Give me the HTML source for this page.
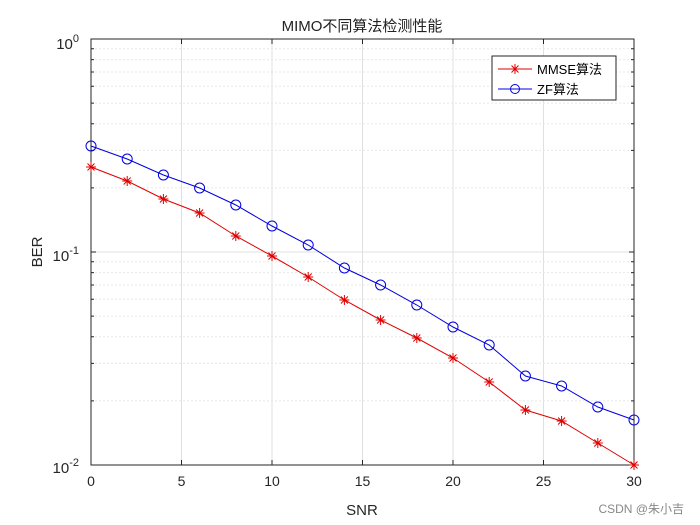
<!DOCTYPE html>
<html><head><meta charset="utf-8"><style>
body{margin:0;background:#fff}
svg{display:block;font-family:"Liberation Sans","Noto Sans CJK SC",sans-serif}
</style></head><body>
<svg id="s" width="700" height="525" xmlns="http://www.w3.org/2000/svg">
<rect width="700" height="525" fill="#fff"/>
<g id="grid"></g>
<rect x="91" y="39" width="543" height="426" fill="none" stroke="#262626" stroke-width="1"/>
<g id="ticks"></g>
<g id="data"></g>
<text x="362" y="31" font-size="15" text-anchor="middle" fill="#222">MIMO不同算法检测性能</text>
<text x="362" y="515" font-size="15" text-anchor="middle" fill="#262626">SNR</text>
<text transform="translate(42,252) rotate(-90)" font-size="15" text-anchor="middle" fill="#262626">BER</text>
<g font-size="15" fill="#262626">
<text x="79" y="49" text-anchor="end">10<tspan dy="-7" font-size="11">0</tspan></text>
<text x="79" y="261" text-anchor="end">10<tspan dy="-7" font-size="11">-1</tspan></text>
<text x="79" y="473" text-anchor="end">10<tspan dy="-7" font-size="11">-2</tspan></text>
</g>
<g id="xl" font-size="14" fill="#262626" text-anchor="middle"></g>
<rect x="492" y="56" width="124" height="44" fill="#fff" stroke="#262626"/>
<line x1="498" y1="69" x2="532" y2="69" stroke="#e00000"/>
<path d="M510,69H520M515,64V74M511.5,65.5L518.5,72.5M511.5,72.5L518.5,65.5" stroke="#e00000" fill="none"/>
<text x="537" y="74" font-size="13" fill="#000">MMSE算法</text>
<line x1="498" y1="89" x2="532" y2="89" stroke="#0000e0"/>
<circle cx="515" cy="89" r="4.5" fill="none" stroke="#0000e0"/>
<text x="537" y="94" font-size="13" fill="#000">ZF算法</text>
<text x="684" y="513" font-size="12" fill="#888" text-anchor="end">CSDN @朱小吉</text>
</svg>
<script>
var NS="http://www.w3.org/2000/svg";
function el(p,t,a){var e=document.createElementNS(NS,t);for(var k in a)e.setAttribute(k,a[k]);document.getElementById(p).appendChild(e);return e;}
var L=91,R=634,T=39,B=465,D=(B-T)/2;
function X(v){return L+v*(R-L)/30;}
for(var v=5;v<30;v+=5)el("grid","line",{x1:X(v),x2:X(v),y1:T,y2:B,stroke:"#e0e0e0"});
for(var d=0;d<2;d++)for(var m=1;m<=9;m++){var y=B-d*D-Math.log10(m)*D;if(m==1&&d==0)continue;
el("grid","line",{x1:L,x2:R,y1:y,y2:y,stroke:m==1?"#e0e0e0":"#e8e8e8","stroke-dasharray":m==1?"":"2,2"});
el("ticks","line",{x1:L,x2:L+(m==1?5:3),y1:y,y2:y,stroke:"#262626"});
el("ticks","line",{x1:R,x2:R-(m==1?5:3),y1:y,y2:y,stroke:"#262626"});}
for(var v=0;v<=30;v+=5){el("ticks","line",{x1:X(v),x2:X(v),y1:B,y2:B-5,stroke:"#262626"});el("ticks","line",{x1:X(v),x2:X(v),y1:T,y2:T+5,stroke:"#262626"});
var t=el("xl","text",{x:X(v),y:486});t.textContent=v;}
var mm=[167,181,199,213,236,256,277,300,320,338,358,382,410,421,443,465];
var zf=[146,159,175,188,205,226,245,268,285,305,327,345,376,386,407,420];
function pts(a){return a.map(function(y,i){return X(i*2)+","+y}).join(" ");}
el("data","polyline",{points:pts(zf),fill:"none",stroke:"#0000e0"});
el("data","polyline",{points:pts(mm),fill:"none",stroke:"#e00000"});
zf.forEach(function(y,i){el("data","circle",{cx:X(i*2),cy:y,r:5,fill:"none",stroke:"#0000e0"});});
mm.forEach(function(y,i){var x=X(i*2),r=5;
el("data","path",{d:"M"+(x-r)+","+y+"H"+(x+r)+"M"+x+","+(y-r)+"V"+(y+r)+"M"+(x-3.5)+","+(y-3.5)+"L"+(x+3.5)+","+(y+3.5)+"M"+(x-3.5)+","+(y+3.5)+"L"+(x+3.5)+","+(y-3.5),stroke:"#e00000",fill:"none"});});
</script>
</body></html>
